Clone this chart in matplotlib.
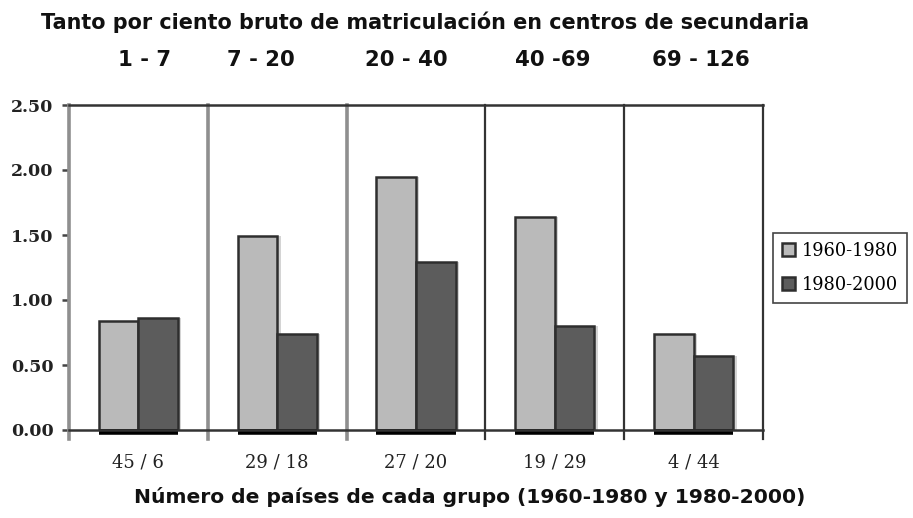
import matplotlib.pyplot as plt
import numpy as np

# data
groups = ["45 / 6", "29 / 18", "27 / 20", "19 / 29", "4 / 44"]
ranges = ["1 - 7", "7 - 20", "20 - 40", "40 -69", "69 - 126"]
v_1960 = [0.84, 1.49, 1.95, 1.64, 0.74]
v_1980 = [0.86, 0.74, 1.29, 0.80, 0.57]
series = ["1960-1980", "1980-2000"]
yticks = [0.0, 0.5, 1.0, 1.5, 2.0, 2.5]

c_light = "#bababa"
c_dark = "#5c5c5c"
c_edge = "#2e2e2e"
c_shadow = "#d4d4d4"

W, H = 913, 518
fig = plt.figure(figsize=(W / 100, H / 100), dpi=100)
ax = fig.add_axes([69 / W, 1 - 430 / H, (763 - 69) / W, (430 - 105) / H])

x = np.arange(len(groups))
w = 0.285

# shadows
ax.bar(x - w / 2 + 0.025, v_1960, width=w, color=c_shadow, zorder=1)
ax.bar(x + w / 2 + 0.025, v_1980, width=w, color=c_shadow, zorder=1)

b1 = ax.bar(x - w / 2, v_1960, width=w, color=c_light, edgecolor=c_edge, linewidth=1.8, zorder=3, label=series[0])
b2 = ax.bar(x + w / 2, v_1980, width=w, color=c_dark, edgecolor=c_edge, linewidth=1.8, zorder=3, label=series[1])

# thick black foot under each pair
for xi in x:
    ax.plot([xi - w, xi + w], [-0.012, -0.012], color="black", linewidth=4, solid_capstyle="butt", zorder=4, clip_on=False)

ax.set_xlim(-0.5, len(groups) - 0.5)
ax.set_ylim(0, 2.5)

for s in ax.spines.values():
    s.set_visible(False)

# frame and separators
seps = np.arange(len(groups) + 1) - 0.5
for i, sx in enumerate(seps):
    col = "#8f8f8f" if i < 3 else "#333333"
    lw = 2.6 if i < 3 else 1.6
    ax.plot([sx, sx], [-0.07, 2.5], color=col, linewidth=lw, zorder=2, clip_on=False)
ax.plot([-0.5, len(groups) - 0.5], [2.5, 2.5], color="#333333", linewidth=1.8, zorder=5, clip_on=False)
ax.plot([-0.5, len(groups) - 0.5], [0, 0], color="#333333", linewidth=1.8, zorder=5, clip_on=False)

ax.set_yticks(yticks)
ax.set_yticklabels([f"{v:.2f}" for v in yticks], fontfamily="DejaVu Serif", fontweight="bold", fontsize=12.5, color="#222222")
ax.tick_params(axis="y", length=5, width=1.8, color="#444444", pad=6)

ax.set_xticks(x)
ax.set_xticklabels(groups, fontfamily="DejaVu Serif", fontsize=13, color="#222222")
ax.tick_params(axis="x", length=0, pad=17)

sans = dict(fontfamily="DejaVu Sans", fontweight="bold", ha="center", va="center", color="#111111")
t_title = fig.text(425 / W, 1 - 22 / H, "Tanto por ciento bruto de matriculación en centros de secundaria", fontsize=14, **sans)
t_xlab = fig.text(470 / W, 1 - 497 / H, "Número de países de cada grupo (1960-1980 y 1980-2000)", fontsize=14, **sans)
rx = [145, 261, 406, 553, 701]
t_rng = [fig.text(px / W, 1 - 60 / H, r, fontsize=15, **sans) for r, px in zip(ranges, rx)]

# fit text widths to the reference layout
fig.canvas.draw()
rend = fig.canvas.get_renderer()
for t, target in [(t_title, 773), (t_xlab, 673)]:
    bw = t.get_window_extent(rend).width
    t.set_fontsize(t.get_fontsize() * target / bw)
bw = t_rng[-1].get_window_extent(rend).width
for t in t_rng:
    t.set_fontsize(t.get_fontsize() * 98 / bw)

leg = fig.legend(handles=[b1, b2], loc="upper left", bbox_to_anchor=(773 / W, 1 - 233 / H), prop={"family": "DejaVu Serif", "size": 12.8},
                 frameon=True, fancybox=False, edgecolor="#444444", framealpha=1, handlelength=0.75, handleheight=0.75,
                 handletextpad=0.35, borderpad=0.5, labelspacing=0.9, borderaxespad=0)
leg.get_frame().set_linewidth(1.2)

fig.savefig("out.png", dpi=100)
